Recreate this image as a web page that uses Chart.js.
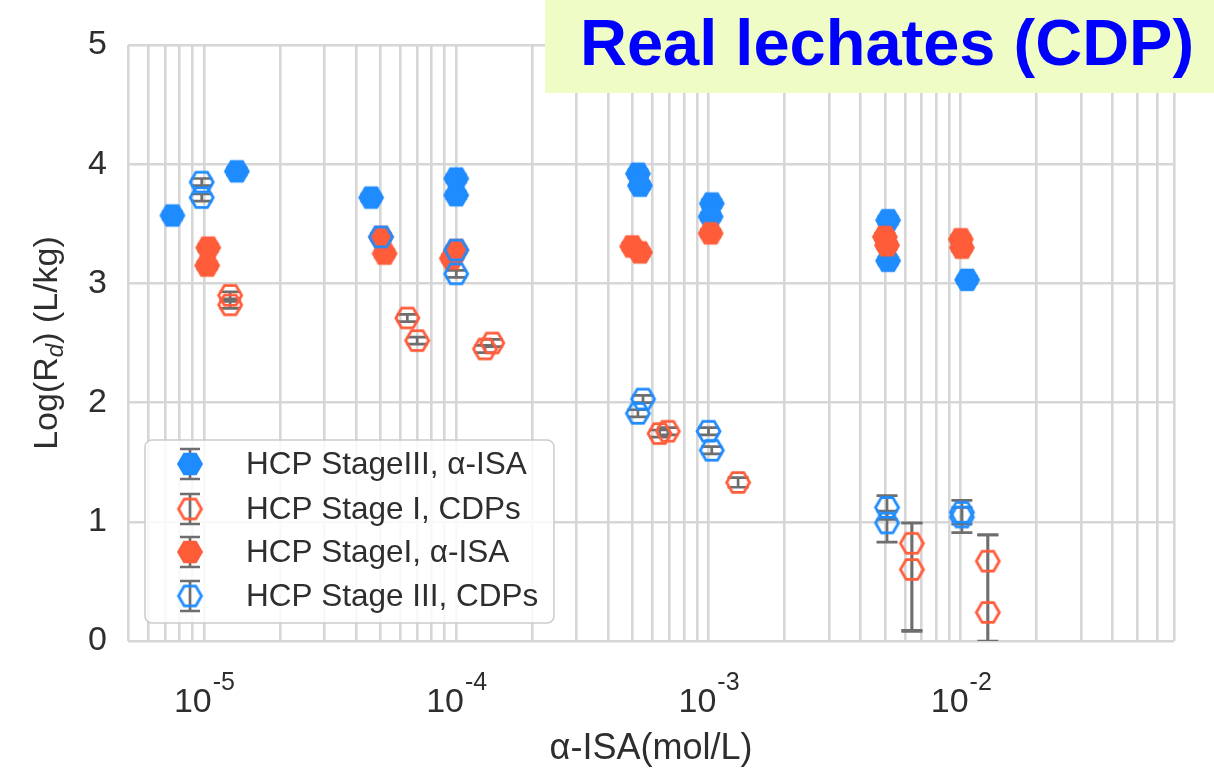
<!DOCTYPE html>
<html>
<head>
<meta charset="utf-8">
<script src="https://cdn.jsdelivr.net/npm/chart.js@4.4.1/dist/chart.umd.min.js"></script>
<style>
    html, body { margin: 0; padding: 0; background: #ffffff; }
    #wrap { position: relative; width: 1214px; height: 770px; }
    #title {
        position: absolute; left: 545px; top: 0; width: 669px; height: 93px;
        background: #effcc6; color: #0000ff;
        font: bold 65px 'Liberation Sans', Arial, sans-serif;
        line-height: 85px; padding-left: 35px; box-sizing: border-box; white-space: nowrap;
    }
</style>
</head>
<body>
<div id="wrap">
    <canvas id="rdChart" width="1214" height="770"></canvas>
    <div id="title">Real lechates (CDP)</div>
</div>
<script>
// ==================== Data ====================
// HCP StageIII, α-ISA (filled blue)
const s3IsaX = [7.5e-6, 1.35e-5, 4.6e-5, 1.0e-4, 1.0e-4, 5.25e-4, 5.35e-4, 1.03e-3, 1.02e-3, 5.15e-3, 5.15e-3, 1.06e-2];
const s3IsaY = [3.57, 3.94, 3.72, 3.88, 3.74, 3.92, 3.82, 3.67, 3.56, 3.53, 3.19, 3.03];
const s3IsaErr = [0.03, 0.03, 0.03, 0.03, 0.03, 0.03, 0.03, 0.03, 0.03, 0.03, 0.03, 0.03];

// HCP Stage I, CDPs (open red)
const s1CdpX = [1.27e-5, 1.27e-5, 6.4e-5, 7.0e-5, 1.3e-4, 1.39e-4, 6.4e-4, 6.9e-4, 1.31e-3, 6.4e-3, 6.4e-3, 1.28e-2, 1.28e-2];
const s1CdpY = [2.90, 2.82, 2.71, 2.52, 2.45, 2.50, 1.74, 1.76, 1.33, 0.82, 0.60, 0.67, 0.24];
const s1CdpErrUp = [0.03, 0.03, 0.03, 0.03, 0.03, 0.03, 0.03, 0.03, 0.04, 0.17, 0.39, 0.22, 0.65];
const s1CdpErrDown = [0.03, 0.03, 0.03, 0.03, 0.03, 0.03, 0.03, 0.03, 0.04, 0.74, 0.51, 0.67, 0.30];

// HCP StageI, α-ISA (filled red)
const s1IsaX = [1.04e-5, 1.03e-5, 5.03e-5, 5.2e-5, 1.0e-4, 9.6e-5, 4.98e-4, 5.35e-4, 1.02e-3, 5.0e-3, 5.1e-3, 1.0e-2, 1.01e-2];
const s1IsaY = [3.30, 3.15, 3.39, 3.25, 3.28, 3.21, 3.31, 3.26, 3.42, 3.39, 3.32, 3.37, 3.30];
const s1IsaErr = [0.03, 0.03, 0.03, 0.03, 0.03, 0.03, 0.03, 0.03, 0.03, 0.03, 0.03, 0.03, 0.03];

// HCP Stage III, CDPs (open blue)
const s3CdpX = [9.8e-6, 9.8e-6, 5.03e-5, 1.0e-4, 1.0e-4, 5.5e-4, 5.25e-4, 1.0e-3, 1.03e-3, 5.1e-3, 5.1e-3, 1.01e-2, 1.01e-2];
const s3CdpY = [3.85, 3.72, 3.39, 3.28, 3.08, 2.03, 1.91, 1.76, 1.60, 1.12, 0.99, 1.08, 1.04];
const s3CdpErrUp = [0.03, 0.03, 0.03, 0.03, 0.03, 0.03, 0.03, 0.03, 0.03, 0.10, 0.10, 0.10, 0.08];
const s3CdpErrDown = [0.03, 0.03, 0.03, 0.03, 0.03, 0.03, 0.03, 0.03, 0.03, 0.10, 0.16, 0.10, 0.13];

// Axis settings
const xMin = 5e-6;
const xMax = 7e-2;
const xDecades = [-6, -5, -4, -3, -2];
const xLabelExponents = ['-5', '-4', '-3', '-2'];
const yTicks = [0, 1, 2, 3, 4, 5];

const BLUE = '#1e8cff';
const RED = '#ff5c3a';
const GRID = '#d6d6d6';
const TEXT = '#2e2e2e';
const FONT = '"Liberation Sans", Arial, sans-serif';

// ==================== Helpers ====================
function hexMarker(color, filled, r) {
    const size = Math.ceil(r * 2 + 6);
    const c = document.createElement('canvas');
    c.width = size;
    c.height = size;
    const g = c.getContext('2d');
    g.beginPath();
    for (let i = 0; i < 6; i++) {
        const a = Math.PI / 3 * i;
        const px = size / 2 + r * Math.cos(a);
        const py = size / 2 + r * Math.sin(a);
        if (i === 0) g.moveTo(px, py); else g.lineTo(px, py);
    }
    g.closePath();
    if (filled) {
        g.fillStyle = color;
        g.fill();
    } else {
        g.strokeStyle = color;
        g.lineWidth = 2.8;
        g.stroke();
    }
    return c;
}

function points(xs, ys, up, down) {
    return xs.map((x, i) => ({ x: x, y: ys[i], up: up[i], down: (down || up)[i] }));
}

// ==================== Plugins ====================
const errorBars = {
    id: 'errorBars',
    beforeDatasetsDraw(chart) {
        const { ctx, chartArea, scales } = chart;
        ctx.save();
        ctx.beginPath();
        ctx.rect(chartArea.left, chartArea.top, chartArea.width, chartArea.height);
        ctx.clip();
        ctx.strokeStyle = '#6e6e6e';
        ctx.lineWidth = 2.7;
        chart.data.datasets.forEach(ds => {
            ds.data.forEach(p => {
                const px = scales.x.getPixelForValue(p.x);
                const top = scales.y.getPixelForValue(p.y + p.up);
                const bot = scales.y.getPixelForValue(p.y - p.down);
                ctx.beginPath();
                ctx.moveTo(px, top); ctx.lineTo(px, bot);
                ctx.moveTo(px - 10.5, top); ctx.lineTo(px + 10.5, top);
                ctx.moveTo(px - 10.5, bot); ctx.lineTo(px + 10.5, bot);
                ctx.stroke();
            });
        });
        ctx.restore();
    }
};

const axisText = {
    id: 'axisText',
    afterDraw(chart) {
        const { ctx, chartArea, scales } = chart;
        ctx.save();
        ctx.fillStyle = TEXT;
        ctx.textBaseline = 'alphabetic';
        ctx.textAlign = 'left';

        // x tick labels 10^n
        xLabelExponents.forEach(e => {
            const px = scales.x.getPixelForValue(Math.pow(10, +e));
            ctx.font = '34px ' + FONT;
            const wBase = ctx.measureText('10').width;
            ctx.font = '25px ' + FONT;
            const wExp = ctx.measureText(e).width;
            const left = px - (wBase + wExp) / 2;
            ctx.font = '34px ' + FONT;
            ctx.fillText('10', left, 712);
            ctx.font = '25px ' + FONT;
            ctx.fillText(e, left + wBase + 1, 690);
        });

        // x title
        ctx.font = '36px ' + FONT;
        ctx.textAlign = 'center';
        ctx.fillText('α-ISA(mol/L)', (chartArea.left + chartArea.right) / 2, 759);

        // y title Log(R_d) (L/kg)
        ctx.translate(57, (chartArea.top + chartArea.bottom) / 2);
        ctx.rotate(-Math.PI / 2);
        ctx.textAlign = 'left';
        const main = '34px ' + FONT;
        const sub = 'italic 24px ' + FONT;
        ctx.font = main;
        const w1 = ctx.measureText('Log(R').width;
        const w3 = ctx.measureText(') (L/kg)').width;
        ctx.font = sub;
        const w2 = ctx.measureText('d').width;
        let cx = -(w1 + w2 + w3) / 2;
        ctx.font = main;
        ctx.fillText('Log(R', cx, 0);
        cx += w1;
        ctx.font = sub;
        ctx.fillText('d', cx, 6);
        cx += w2;
        ctx.font = main;
        ctx.fillText(') (L/kg)', cx, 0);
        ctx.restore();
    }
};

const legendBox = {
    id: 'legendBox',
    afterDraw(chart) {
        const { ctx } = chart;
        const left = 145, top = 440, width = 409, height = 183;
        ctx.save();
        ctx.beginPath();
        ctx.roundRect(left, top, width, height, 7);
        ctx.fillStyle = 'rgba(255,255,255,0.85)';
        ctx.fill();
        ctx.strokeStyle = '#cccccc';
        ctx.lineWidth = 1.5;
        ctx.stroke();

        const rows = [464, 509, 552, 596];
        chart.data.datasets.forEach((ds, i) => {
            const cy = rows[i];
            const ix = 190;
            ctx.strokeStyle = '#6e6e6e';
            ctx.lineWidth = 2.7;
            ctx.beginPath();
            ctx.moveTo(ix, cy - 15); ctx.lineTo(ix, cy + 15);
            ctx.moveTo(ix - 10, cy - 15); ctx.lineTo(ix + 10, cy - 15);
            ctx.moveTo(ix - 10, cy + 15); ctx.lineTo(ix + 10, cy + 15);
            ctx.stroke();
            const m = ds.pointStyle;
            ctx.drawImage(m, ix - m.width / 2, cy - m.height / 2);
            ctx.fillStyle = TEXT;
            ctx.font = '31.5px ' + FONT;
            ctx.textBaseline = 'middle';
            ctx.fillText(ds.label, 246, cy + 1);
        });
        ctx.restore();
    }
};

// ==================== Chart ====================
function initializeChart() {
    const ctx = document.getElementById('rdChart').getContext('2d');

    const gridTicks = [];
    xDecades.forEach(d => {
        for (let m = 1; m <= 9; m++) {
            const v = m * Math.pow(10, d);
            if (v >= xMin * 0.999 && v <= xMax * 1.001) gridTicks.push(v);
        }
    });

    new Chart(ctx, {
        type: 'scatter',
        data: {
            datasets: [{
                label: 'HCP StageIII, α-ISA',
                data: points(s3IsaX, s3IsaY, s3IsaErr),
                pointStyle: hexMarker(BLUE, true, 13),
                order: 4
            }, {
                label: 'HCP Stage I, CDPs',
                data: points(s1CdpX, s1CdpY, s1CdpErrUp, s1CdpErrDown),
                pointStyle: hexMarker(RED, false, 11.5),
                order: 3
            }, {
                label: 'HCP StageI, α-ISA',
                data: points(s1IsaX, s1IsaY, s1IsaErr),
                pointStyle: hexMarker(RED, true, 13),
                order: 2
            }, {
                label: 'HCP Stage III, CDPs',
                data: points(s3CdpX, s3CdpY, s3CdpErrUp, s3CdpErrDown),
                pointStyle: hexMarker(BLUE, false, 11.5),
                order: 1
            }]
        },
        options: {
            responsive: false,
            animation: false,
            layout: { padding: { top: 45, right: 40, left: 0, bottom: 0 } },
            plugins: {
                legend: { display: false },
                tooltip: { enabled: false }
            },
            scales: {
                x: {
                    type: 'logarithmic',
                    min: xMin,
                    max: xMax,
                    afterBuildTicks: scale => {
                        scale.ticks = gridTicks.map(v => ({ value: v }));
                    },
                    afterFit: scale => { scale.height = 129; },
                    ticks: { display: false, autoSkip: false },
                    grid: { color: GRID, lineWidth: 2.6, drawTicks: false },
                    border: { display: false }
                },
                y: {
                    min: 0,
                    max: 5,
                    afterBuildTicks: scale => {
                        scale.ticks = yTicks.map(v => ({ value: v }));
                    },
                    afterFit: scale => { scale.width = 128; },
                    ticks: {
                        color: TEXT,
                        padding: 21,
                        font: { family: FONT, size: 34 }
                    },
                    grid: { color: GRID, lineWidth: 2.6, drawTicks: false },
                    border: { display: false }
                }
            }
        },
        plugins: [errorBars, axisText, legendBox]
    });
}

initializeChart();
</script>
</body>
</html>
